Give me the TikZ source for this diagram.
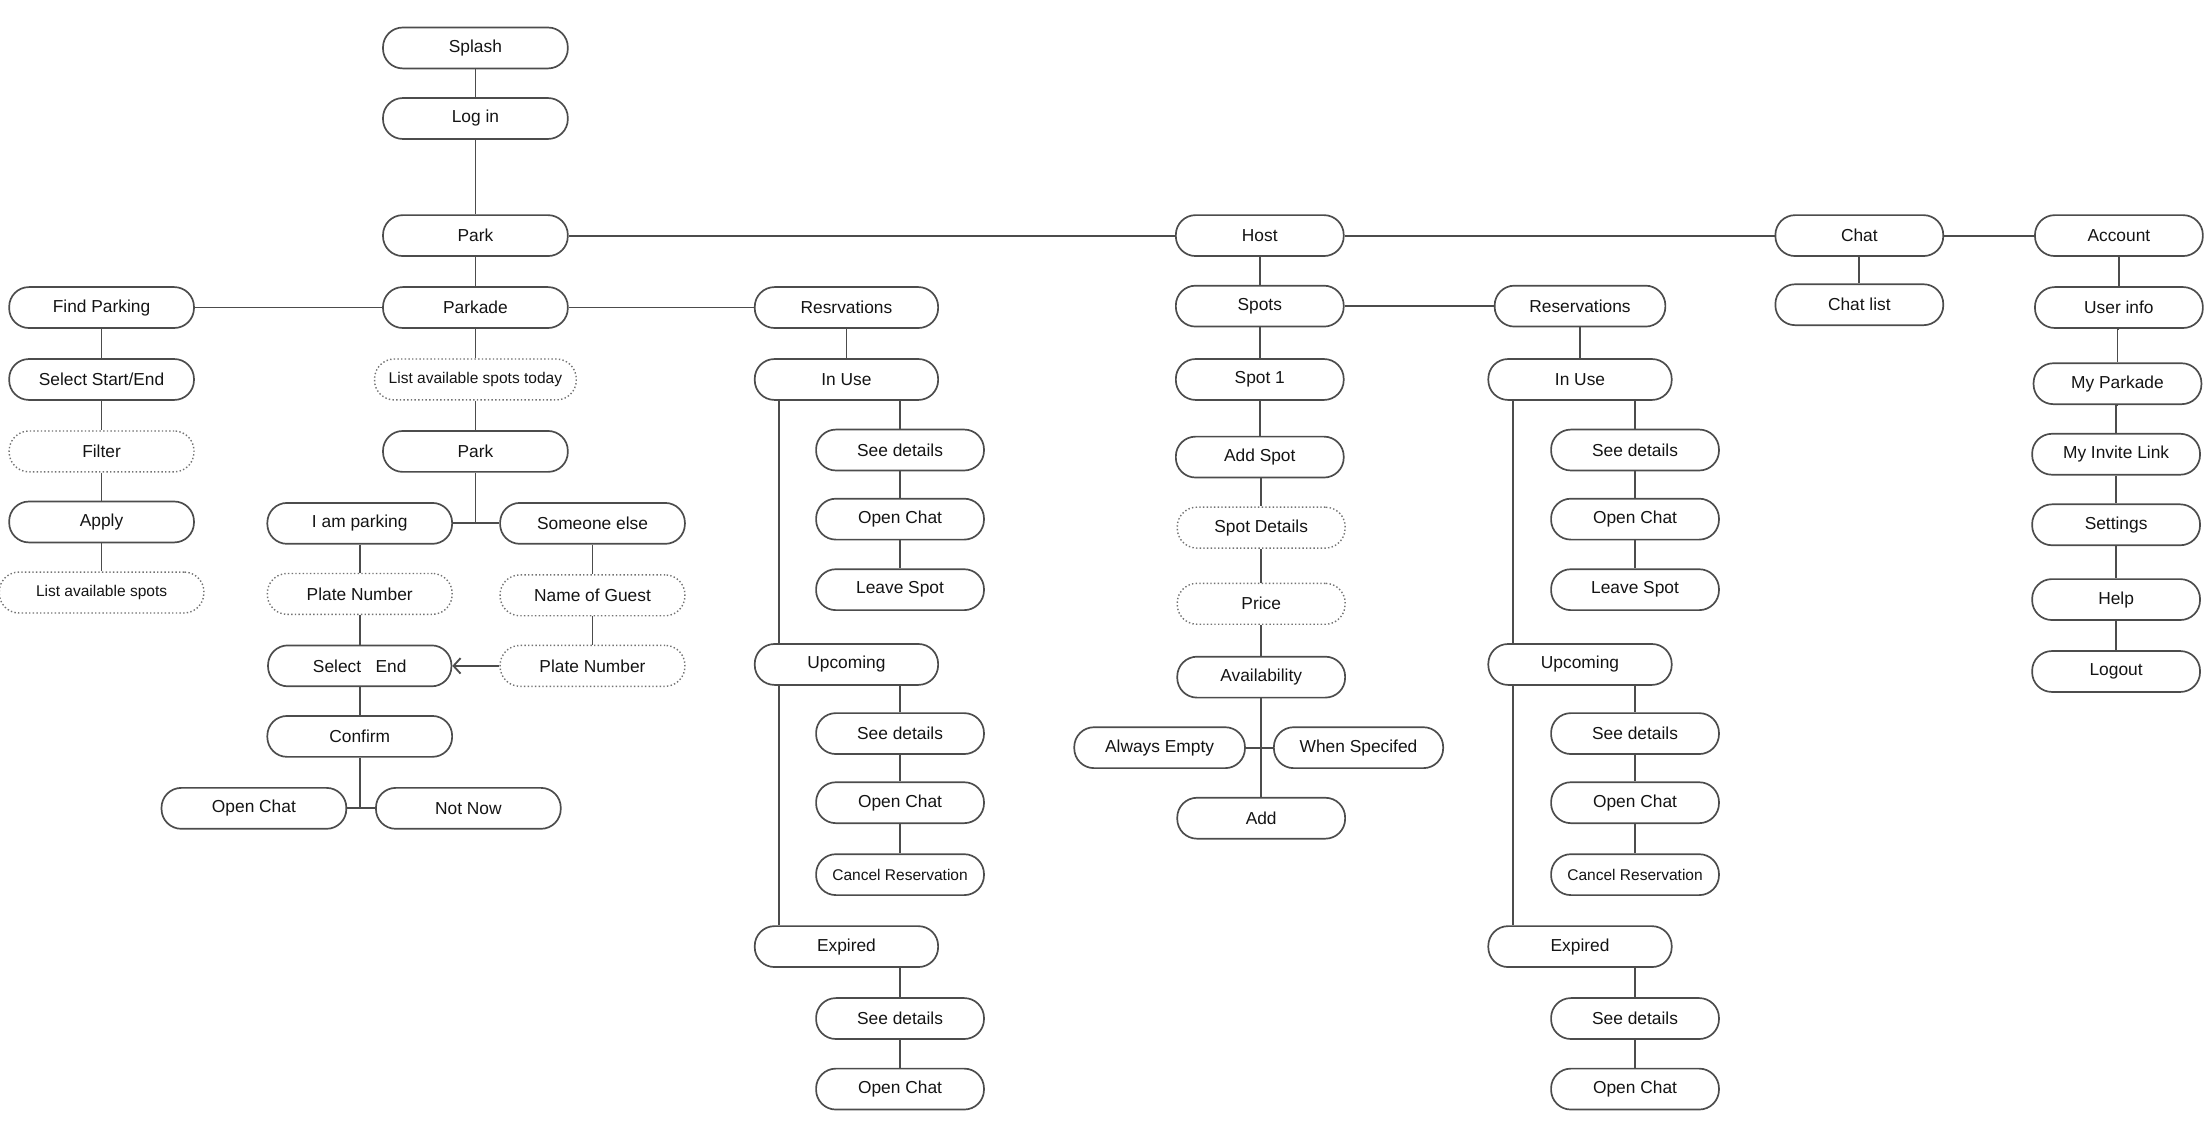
\documentclass[tikz,border=0pt]{standalone}
\usepackage{fontspec}
\setmainfont{Liberation Sans}
\usetikzlibrary{arrows.meta}

\begin{document}
\begin{tikzpicture}[x=1pt,y=-1pt,
	box/.style={draw=black!70,line width=1.2pt,rounded corners=14pt,minimum width=131pt,minimum height=29pt,inner sep=0pt,text=black!92,font=\fontsize{12.3}{14}\selectfont},
	dotbox/.style={box,draw=black!55,line width=1pt,dash pattern=on 1pt off 1.6pt},
	narrow/.style={minimum width=119pt},
	small/.style={font=\fontsize{11}{13}\selectfont},
	link/.style={draw=black!70,line width=1.3pt}]
		\useasboundingbox (0,0) rectangle (1568,811);
		% start and park side
		\node[box] (splash) at (337,34) {Splash};
		\node[box] (login) at (337,84) {Log in};
		\node[box] (park) at (337,167) {Park};
		\node[box] (parkade) at (337,218) {Parkade};
		\node[dotbox,small,minimum width=143pt] (today) at (337,269) {List available spots today};
		\node[box] (parktwo) at (337,320) {Park};
		\node[box] (self) at (255,371) {I am parking};
		\node[box] (guest) at (420,371) {Someone else};
		\node[dotbox] (plateself) at (255,421) {Plate Number};
		\node[dotbox] (guestname) at (420,422) {Name of Guest};
		\node[box,minimum width=130pt] (selectend) at (255,472) {Select\ \ \ End};
		\node[dotbox] (plateguest) at (420,472) {Plate Number};
		\node[box] (confirm) at (255,522) {Confirm};
		\node[box] (chatnow) at (180,573) {Open Chat};
		\node[box] (notnow) at (332,573) {Not Now};
		% find parking
		\node[box] (find) at (72,218) {Find Parking};
		\node[box] (startend) at (72,269) {Select Start/End};
		\node[dotbox] (filter) at (72,320) {Filter};
		\node[box] (apply) at (72,370) {Apply};
		\node[dotbox,small,minimum width=145pt] (listspots) at (72,420) {List available spots};
		% reservations of the parker
		\node[box,minimum width=130pt] (presv) at (600,218) {Resrvations};
		\node[box,minimum width=130pt] (pinuse) at (600,269) {In Use};
		\node[box,narrow] (pdetails) at (638,319) {See details};
		\node[box,narrow] (pchat) at (638,368) {Open Chat};
		\node[box,narrow] (pleave) at (638,418) {Leave Spot};
		\node[box,minimum width=130pt] (pupcoming) at (600,471) {Upcoming};
		\node[box,narrow] (pudetails) at (638,520) {See details};
		\node[box,narrow] (puchat) at (638,569) {Open Chat};
		\node[box,narrow,small] (pucancel) at (638,620) {Cancel Reservation};
		\node[box,minimum width=130pt] (pexpired) at (600,671) {Expired};
		\node[box,narrow] (pedetails) at (638,722) {See details};
		\node[box,narrow] (pechat) at (638,772) {Open Chat};
		% host side
		\node[box,narrow] (host) at (893,167) {Host};
		\node[box,narrow] (spots) at (893,217) {Spots};
		\node[box,narrow] (spotone) at (893,269) {Spot 1};
		\node[box,narrow] (addspot) at (893,324) {Add Spot};
		\node[dotbox,narrow] (spotdetails) at (894,374) {Spot Details};
		\node[dotbox,narrow] (price) at (894,428) {Price};
		\node[box,narrow] (avail) at (894,480) {Availability};
		\node[box,minimum width=121pt] (always) at (822,530) {Always Empty};
		\node[box,minimum width=120pt] (when) at (963,530) {When Specifed};
		\node[box,narrow] (add) at (894,580) {Add};
		% reservations of the host
		\node[box,minimum width=121pt] (hresv) at (1120,217) {Reservations};
		\node[box,minimum width=130pt] (hinuse) at (1120,269) {In Use};
		\node[box,narrow] (hdetails) at (1159,319) {See details};
		\node[box,narrow] (hchat) at (1159,368) {Open Chat};
		\node[box,narrow] (hleave) at (1159,418) {Leave Spot};
		\node[box,minimum width=130pt] (hupcoming) at (1120,471) {Upcoming};
		\node[box,narrow] (hudetails) at (1159,520) {See details};
		\node[box,narrow] (huchat) at (1159,569) {Open Chat};
		\node[box,narrow,small] (hucancel) at (1159,620) {Cancel Reservation};
		\node[box,minimum width=130pt] (hexpired) at (1120,671) {Expired};
		\node[box,narrow] (hedetails) at (1159,722) {See details};
		\node[box,narrow] (hechat) at (1159,772) {Open Chat};
		% chat and account
		\node[box,narrow] (chat) at (1318,167) {Chat};
		\node[box,narrow] (chatlist) at (1318,216) {Chat list};
		\node[box,narrow] (account) at (1502,167) {Account};
		\node[box,narrow] (userinfo) at (1502,218) {User info};
		\node[box,narrow] (myparkade) at (1501,272) {My Parkade};
		\node[box,narrow] (invite) at (1500,322) {My Invite Link};
		\node[box,narrow] (settings) at (1500,372) {Settings};
		\node[box,narrow] (help) at (1500,425) {Help};
		\node[box,narrow] (logout) at (1500,476) {Logout};
		% straight links
		\foreach \a/\b in {splash/login,login/park,park/parkade,parkade/today,today/parktwo,
			self/plateself,plateself/selectend,selectend/confirm,guest/guestname,guestname/plateguest,
			find/startend,startend/filter,filter/apply,apply/listspots,presv/pinuse,
			pdetails/pchat,pchat/pleave,pudetails/puchat,puchat/pucancel,pedetails/pechat,
			host/spots,spots/spotone,spotone/addspot,addspot/spotdetails,spotdetails/price,price/avail,
			hresv/hinuse,hdetails/hchat,hchat/hleave,hudetails/huchat,huchat/hucancel,hedetails/hechat,
			chat/chatlist,account/userinfo,userinfo/myparkade,myparkade/invite,invite/settings,settings/help,help/logout}
			\draw[link] (\a.south) -- (\a.south -| \b.north) -- (\b.north);
		% side links
		\foreach \a/\b in {park/host,host/chat,chat/account,find/parkade,parkade/presv,spots/hresv,
			self/guest,chatnow/notnow,always/when}
			\draw[link] (\a.east) -- (\b.west);
		\draw[link] (parktwo.south) -- (parktwo.south |- self.east);
		\draw[link] (confirm.south) -- (confirm.south |- chatnow.east);
		\draw[link] (avail.south) -- (add.north);
		\draw[link,-{Straight Barb[length=5pt,width=11pt]}] (plateguest.west) -- (selectend.east);
		% status branches
		\foreach \s/\d/\t in {pinuse/pdetails/pupcoming,pupcoming/pudetails/pexpired,hinuse/hdetails/hupcoming,hupcoming/hudetails/hexpired}
		{
			\draw[link] ([xshift=18pt]\s.south west) -- ([xshift=18pt]\t.north west);
			\draw[link] (\d.north |- \s.south) -- (\d.north);
		}
		\draw[link] (pedetails.north |- pexpired.south) -- (pedetails.north);
		\draw[link] (hedetails.north |- hexpired.south) -- (hedetails.north);
\end{tikzpicture}
\end{document}
